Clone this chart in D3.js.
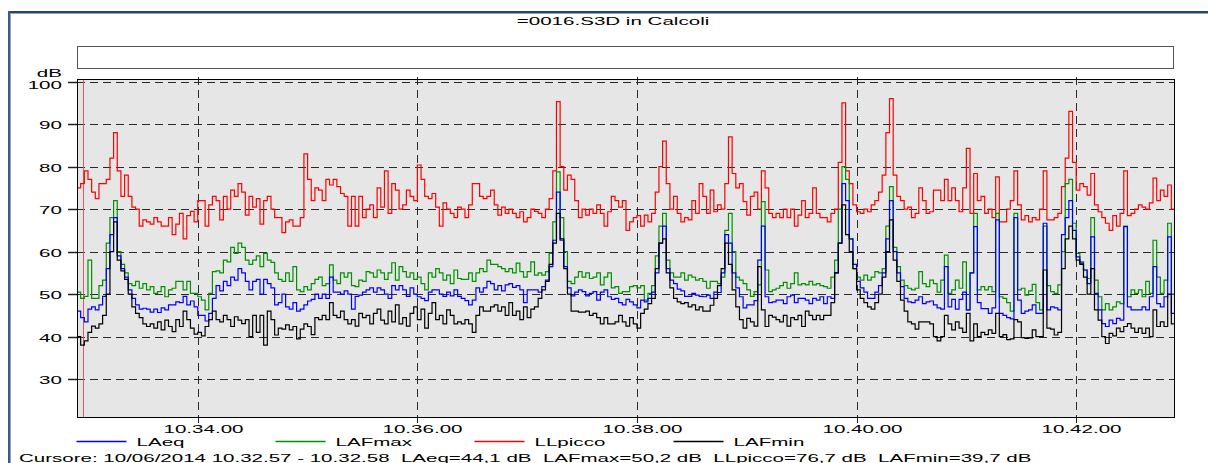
<!DOCTYPE html>
<html>
<head>
<meta charset="utf-8">
<script src="https://cdn.jsdelivr.net/npm/d3@7"></script>
<style>
  html, body { margin: 0; padding: 0; background: #fff; overflow: hidden; }
  text { font-family: "Liberation Sans", Arial, Helvetica, sans-serif; fill: #000; }
</style>
</head>
<body>
<svg id="chart" width="1208" height="463"></svg>
<script>
// ---- Measurement record: 2-second samples starting at 10:32:54 ----
const recordDate = "2014-06-10";
const startTime = "10:32:54";
const endTime = "10:42:54";
const stepSeconds = 2;

const LAeq = [
  46, 44.5, 43.5, 46.5, 47, 46.3, 47.5, 49.5, 56, 64,
  68, 59, 56, 54, 51, 49, 47.5, 46.5, 46.7, 46.5,
  45.8, 46.5, 45.7, 46.8, 46.3, 47.5, 47.5, 48.2, 48, 49.5,
  47.5, 48.4, 47, 45, 45, 43.7, 45.5, 49, 52, 50.8,
  53, 52, 54, 53.3, 56, 55, 53, 51, 53, 53.5,
  50, 53.5, 52.5, 51.5, 47.5, 48, 50, 47, 46.5, 48,
  46, 46.5, 47.5, 48.4, 48.8, 50, 49, 50, 49, 54,
  50.5, 50.5, 50, 50.8, 50, 46.5, 49.5, 49.8, 50.5, 51,
  51.5, 50.5, 51.5, 51, 50, 49, 52, 51, 52, 51,
  49.5, 51.5, 50, 49.4, 49, 48.5, 50.5, 51, 51, 50,
  49.5, 50.5, 49.6, 51, 49.5, 49, 48.5, 47.5, 48.6, 51.5,
  50.5, 51.5, 53, 52.5, 51, 52, 50.8, 52.2, 52.5, 51.6,
  52, 51, 48, 51, 51, 51, 50.5, 51.8, 53.3, 56.5,
  62.7, 74, 62.7, 56.5, 51.5, 49.6, 50.5, 51, 50.6, 49.6,
  50.2, 50.6, 48.6, 50.5, 51, 49.4, 48.8, 49, 48, 47.5,
  48.8, 48.2, 47.5, 46.8, 48.6, 48.2, 49, 50.5, 55, 62,
  66, 56, 53.3, 52.5, 51.2, 50.8, 49.5, 49.5, 50.2, 49.8,
  49.5, 49.4, 49.8, 49, 50.5, 50.4, 55, 64, 62, 55,
  51.5, 49.4, 46.8, 47.5, 47.5, 48.5, 58, 66, 49.4, 48,
  48.2, 48.6, 48.6, 47.8, 49.4, 49.8, 48, 49, 49, 48.6,
  47.8, 49, 48.6, 49.4, 47.8, 49.4, 49, 55, 62, 76,
  72, 63, 57, 53, 51.5, 50.5, 49, 49, 50.5, 52,
  55, 63, 72, 60, 55, 51.8, 49, 48.2, 48, 48.6,
  49.4, 47.8, 48.2, 48.4, 47.5, 46.8, 46.5, 56.5, 47, 48.8,
  46.5, 48.8, 50.5, 46.3, 55, 65.9, 48, 46.6, 46.6, 45.5,
  46.8, 67.5, 45.5, 45, 44.5, 44.2, 68, 48.6, 45.5, 46,
  46.3, 47.5, 45.5, 45.5, 66.7, 46.3, 47, 46.8, 46.3, 64,
  68, 72, 65, 58.8, 57.3, 55.7, 52.5, 63.5, 50.2, 46.3,
  43.1, 42.4, 43.9, 43.1, 44.3, 43.9, 65.9, 47, 46.3, 46.3,
  46.3, 47, 46.3, 49.4, 56.5, 47.8, 47, 49.4, 63.5, 45.5
];

const LAFmax = [
  50.5, 49, 49.5, 58, 49, 49, 52, 53.3, 62, 68,
  72, 60, 57, 55, 52.5, 52, 53, 51.4, 52.5, 51,
  51.8, 50.2, 50.6, 51.8, 49.4, 51, 51.4, 53, 53, 51,
  53, 50.2, 50.2, 49.4, 48.6, 46.3, 50.2, 55.3, 55.5, 55,
  58, 57.6, 61, 59.6, 62, 61, 58, 57, 58, 59,
  56.5, 59.6, 58, 57.5, 55, 53.5, 53, 55, 53, 56.5,
  51, 50.6, 51.8, 51, 52.5, 53.5, 54, 52, 52.5, 56.9,
  53.3, 52.5, 55, 54, 55, 52, 51.8, 53.3, 53, 55.3,
  55, 54, 55.7, 55, 53.5, 55, 57.4, 53.3, 56.5, 55.3,
  54, 55, 53.5, 54, 52.5, 51, 55, 54, 56, 55,
  53.3, 54.5, 52.5, 55.7, 53.7, 53.5, 53.5, 55, 53, 55,
  56, 55.3, 58, 57, 57, 56.5, 56, 55.3, 56, 55,
  57.3, 55.3, 54, 55.3, 57.6, 54.5, 55, 54.5, 55.3, 59.6,
  67, 78.8, 68, 60, 53, 52.5, 54, 55.3, 54, 55,
  53.7, 54, 55, 52.2, 54, 55, 51.5, 51.8, 50.2, 50.6,
  50.6, 51.8, 52, 51.5, 52, 48.6, 50.2, 52, 59, 66,
  69, 58, 55, 54, 54, 55, 53.3, 54.5, 54, 53.3,
  53.7, 53, 51.4, 53, 53, 52.5, 54, 65, 69, 60,
  54, 53.3, 52.5, 51, 49.5, 50.6, 52.2, 71.8, 55.7, 50.6,
  51, 51.4, 52, 52.8, 51.4, 52.5, 55, 52.2, 52.5, 52.2,
  53, 52.2, 52.5, 52, 51.8, 51.4, 54, 58, 70, 80,
  77, 63, 56, 54, 53.3, 54.5, 53.3, 54, 55.3, 55,
  56, 66, 75.3, 61, 56.5, 53.3, 52, 51.4, 51, 51.4,
  55.3, 52.5, 51.8, 53.3, 52.5, 50.5, 53.3, 59.2, 50.2, 51,
  53.3, 51.4, 57.6, 46.3, 55, 69, 51, 51.8, 51, 51.8,
  50.6, 69, 49.4, 49, 48, 46, 69, 51, 51.4, 49.8,
  50.8, 52.3, 48, 46.3, 66, 52, 50.6, 50.2, 52.2, 60,
  76, 77, 66.7, 59.6, 57.6, 55.7, 53.7, 68, 53.3, 49.4,
  46.3, 47.8, 46.3, 47, 48.2, 47.8, 66, 49.4, 51, 50.2,
  51, 49.4, 53, 50.2, 62.7, 54, 50.2, 53.3, 66.7, 50
];

const LLpicco = [
  75, 76, 79, 77, 74, 72.5, 76, 76, 77, 82,
  88, 79, 73, 78, 73, 70.5, 70, 66, 67.5, 67,
  66.5, 68, 67, 66, 66, 68, 64, 66.5, 69, 63,
  68.5, 69.5, 67, 72, 72, 66, 71, 73, 72, 67.5,
  73, 70, 74.5, 73, 76, 74, 68.6, 73, 70.5, 72.5,
  66.5, 72, 73, 70, 68, 68, 64.5, 67, 67.5, 66,
  66, 68, 83, 77, 72, 75, 74.5, 72, 77, 75.7,
  77, 75.3, 73.7, 73, 66, 73, 66, 73, 68, 70,
  71, 68, 75, 70.5, 79, 69, 76, 74.5, 70, 71,
  74.5, 73, 72, 80.4, 77, 73, 72.5, 73.7, 70.5, 66,
  71.5, 70, 69, 68, 70.5, 70, 68, 71, 76, 76,
  73, 72.5, 73, 74.5, 71, 68.6, 70.5, 69, 70, 69,
  68, 69.4, 67, 68, 70, 69.5, 69, 68, 70, 72.5,
  79, 95.3, 80, 74.5, 78, 77, 72, 68, 70, 68.6,
  70, 69, 71, 69, 66, 69.4, 73, 72, 70.5, 72,
  65, 67, 68, 68.5, 66, 68.6, 67, 69, 74, 80,
  86, 76, 70, 73, 69, 67, 68, 67.5, 72, 69,
  76, 73, 69, 74.5, 69.4, 71, 70, 76, 87, 78.4,
  75, 76, 71.8, 68.6, 73, 74, 70, 79, 75, 69,
  68, 69, 68, 70, 68, 70, 66, 68.6, 72, 68,
  69, 75, 69, 68, 68, 67, 69, 70, 81, 95,
  79, 76, 71, 69.4, 69, 70, 69.4, 71, 72, 74,
  78, 88, 96, 78, 73, 72, 70, 70.5, 68, 69,
  75, 72, 69, 69.4, 74.5, 74.5, 72, 77, 72, 75,
  72, 69.4, 75, 84.3, 69, 78.4, 72, 73, 69, 70,
  68, 77.6, 67, 67, 70, 72, 79, 71, 67.5, 68.5,
  67, 68, 67.5, 70, 79, 67.5, 67.5, 68, 69, 75.3,
  82, 93, 81, 74.5, 76, 75.3, 73.3, 78.4, 71, 69.4,
  68, 66.7, 65, 68.5, 66, 69, 79, 68.5, 69, 70,
  71, 70.5, 70, 71.5, 77.3, 72, 74.5, 73, 75.7, 70
];

const LAFmin = [
  40, 38, 39, 41, 42.5, 42, 43, 45, 50, 60,
  67, 58, 55.5, 53.5, 50, 47, 45.5, 44.5, 43, 42.4,
  43, 42, 43.5, 41.6, 43.9, 42.4, 41.2, 44, 42.4, 46,
  44, 42, 40.6, 41, 40.2, 42.4, 44, 46, 44, 43.5,
  45, 44, 42.4, 44.7, 43.9, 43.1, 44, 40, 45, 41,
  45, 38, 46, 44, 40.4, 42, 41.8, 42.8, 41.6, 42.4,
  39.5, 41.8, 43, 42.4, 40.5, 44.5, 44, 45, 44, 48,
  45, 44.5, 46, 44, 43, 44, 42.5, 45.5, 44.5, 45,
  43, 45.5, 46.5, 43.9, 43, 46, 43.5, 47.5, 43, 44.5,
  42.5, 45.5, 47, 44, 46.5, 42, 45.5, 48, 44, 45,
  43, 46.3, 45, 43, 43.5, 43, 44, 43, 41, 45,
  47, 46, 46, 47, 47.5, 46, 47, 45, 48, 45,
  46, 44, 47, 44.5, 46.5, 47, 49, 51, 53, 57,
  62, 69, 63, 56, 50, 46, 46, 45.8, 45.8, 46,
  45, 45.5, 44.5, 43, 44.5, 43, 43, 43.5, 45, 43.5,
  42.5, 44.5, 43, 42, 45.5, 46.5, 47.8, 49, 56, 62,
  63, 55, 51.5, 49, 48.2, 47.8, 48, 47, 47.5, 46.3,
  47, 46, 46, 47.4, 49, 52, 56, 62, 57, 51,
  47, 44, 42, 44.3, 43.5, 42.5, 56.5, 46.3, 42.4, 45,
  44.6, 44, 43.5, 45, 42.5, 44.5, 44, 45, 42.4, 46,
  45, 44, 45, 44, 45, 45, 48, 55, 62, 71,
  64, 60, 56, 51, 49, 48, 47, 46.5, 48, 50,
  54, 60, 67.5, 58, 53, 48.6, 46, 43.5, 43, 41.8,
  43.5, 43.5, 43.5, 43, 40, 39, 40, 45, 43, 41.6,
  43.5, 42, 41, 45.5, 39, 43, 40, 41, 40.5, 41.6,
  40.8, 45.5, 40, 40.5, 39.3, 39.5, 44, 43.5, 39.8, 39.6,
  39.7, 41.6, 40, 40, 55.7, 42, 41.8, 40.4, 41, 56,
  63, 66, 63, 58, 57, 54, 50, 56, 46.3, 43.9,
  40, 38.4, 40.8, 40.2, 42, 41.2, 42.4, 43.1, 42, 41,
  42, 40.8, 42, 40, 46.3, 42.4, 43.5, 42.4, 50, 43
];

const seriesNames  = ["LAeq", "LAFmax", "LLpicco", "LAFmin"];
const seriesValues = [LAeq, LAFmax, LLpicco, LAFmin];
const seriesColors = ["#0000ff", "#009000", "#ff0000", "#000000"];
const drawOrder    = ["LLpicco", "LAFmax", "LAeq", "LAFmin"];

const yTicks = [30, 40, 50, 60, 70, 80, 90, 100];
const yUnit = "dB";
const chartTitle = "=0016.S3D in Calcoli";
const cursorTime = "10:32:57.5";
const cursorLine = "Cursore: 10/06/2014 10.32.57 - 10.32.58  LAeq=44,1 dB  LAFmax=50,2 dB  LLpicco=76,7 dB  LAFmin=39,7 dB";

// ---- Layout ----
const plot = { left: 77, right: 1175, top: 79, bottom: 418 };
const FS = 11;      // font size
const SX = 1.87;    // horizontal glyph stretch of this instrument software

const parseT = d3.timeParse("%Y-%m-%d %H:%M:%S.%L");
function toDate(s) {
  const [hms, frac] = s.split(".");
  const ms = frac ? String(Math.round(parseFloat("0." + frac) * 1000)).padStart(3, "0") : "000";
  return parseT(`${recordDate} ${hms}.${ms}`);
}
const t0 = toDate(startTime);
const t1 = toDate(endTime);

const x = d3.scaleTime().domain([t0, t1]).range([plot.left, plot.right]);
const y = d3.scaleLinear().domain([30, 100]).range([379.2, 81.7]);

const svg = d3.select("#chart");

function stext(parent, px, py, str, anchor, sx) {
  const g = parent.append("g").attr("transform", `translate(${px},${py}) scale(${sx || SX},1)`);
  return g.append("text")
    .attr("text-anchor", anchor || "start")
    .attr("font-size", FS)
    .style("white-space", "pre")
    .text(str);
}

// window frame
svg.append("rect").attr("x", 8).attr("y", 11).attr("width", 1200).attr("height", 2.5).attr("fill", "#27466f");
svg.append("rect").attr("x", 8).attr("y", 11).attr("width", 2).attr("height", 452).attr("fill", "#3a5a85");
svg.append("rect").attr("x", 10).attr("y", 13.5).attr("width", 1).attr("height", 450).attr("fill", "#8ea6c4");

// title
stext(svg, 613, 24.5, chartTitle, "middle");

// empty header box
svg.append("rect").attr("x", 77.5).attr("y", 46.5).attr("width", 1096).attr("height", 22)
  .attr("fill", "#fff").attr("stroke", "#555").attr("stroke-width", 1);

// plot background
svg.append("rect").attr("x", plot.left).attr("y", plot.top)
  .attr("width", plot.right - plot.left).attr("height", plot.bottom - plot.top)
  .attr("fill", "#e6e6e6");

// horizontal grid + y ticks
const grid = svg.append("g");
yTicks.forEach(v => {
  const yy = Math.round(y(v)) + 0.5;
  grid.append("line").attr("x1", plot.left).attr("x2", plot.right).attr("y1", yy).attr("y2", yy)
    .attr("stroke", "#2a2a2a").attr("stroke-width", 1).attr("stroke-dasharray", "8,5");
  grid.append("line").attr("x1", 68).attr("x2", plot.left).attr("y1", yy).attr("y2", yy)
    .attr("stroke", "#222").attr("stroke-width", 1.5);
  stext(grid, 62, yy + 4 + (v === 100 ? 2.5 : 0), String(v), "end");
});
stext(svg, 62, 77, yUnit, "end");

// vertical grid + x ticks
const xTicks = x.ticks(d3.timeMinute.every(2));
const fmt = d3.timeFormat("%H.%M.%S");
xTicks.forEach(t => {
  const xx = Math.round(x(t)) + 0.5;
  grid.append("line").attr("x1", xx).attr("x2", xx).attr("y1", plot.top - 2).attr("y2", plot.bottom)
    .attr("stroke", "#2a2a2a").attr("stroke-width", 1).attr("stroke-dasharray", "8,5");
  grid.append("line").attr("x1", xx).attr("x2", xx).attr("y1", plot.bottom).attr("y2", plot.bottom + 5)
    .attr("stroke", "#222").attr("stroke-width", 1);
  stext(grid, xx + 5, 433, fmt(t), "middle");
});

// cursor marker
const cx = Math.round(x(toDate(cursorTime))) + 0.5;
svg.append("line").attr("x1", cx).attr("x2", cx).attr("y1", plot.top).attr("y2", plot.bottom)
  .attr("stroke", "#e35a5a").attr("stroke-width", 1);

// series as step lines
svg.append("clipPath").attr("id", "plotclip").append("rect")
  .attr("x", plot.left).attr("y", plot.top).attr("width", plot.right - plot.left).attr("height", plot.bottom - plot.top);

const line = d3.line()
  .x(d => x(d.t))
  .y(d => y(d.v))
  .curve(d3.curveStepAfter);

const linesG = svg.append("g").attr("clip-path", "url(#plotclip)");
drawOrder.forEach(name => {
  const k = seriesNames.indexOf(name);
  const vals = seriesValues[k];
  const pts = vals.map((v, i) => ({ t: d3.timeSecond.offset(t0, i * stepSeconds), v }));
  pts.push({ t: t1, v: vals[vals.length - 1] });
  linesG.append("path").datum(pts)
    .attr("d", line)
    .attr("fill", "none")
    .attr("stroke", seriesColors[k])
    .attr("stroke-width", 1.2)
    .attr("stroke-linejoin", "miter");
});

// plot frame
svg.append("rect").attr("x", plot.left + 0.5).attr("y", plot.top + 0.5)
  .attr("width", plot.right - plot.left - 1).attr("height", plot.bottom - plot.top - 1)
  .attr("fill", "none").attr("stroke", "#000").attr("stroke-width", 1);

// legend
const legendX = [76.5, 275.5, 474.5, 673.5];
seriesNames.forEach((name, k) => {
  const lx = legendX[k];
  svg.append("line").attr("x1", lx).attr("x2", lx + 50).attr("y1", 441.5).attr("y2", 441.5)
    .attr("stroke", seriesColors[k]).attr("stroke-width", 1.6);
  stext(svg, lx + 60, 446, name, "start");
});

// cursor readout, stretched to the readout field width
const readout = stext(svg, 19, 461.5, cursorLine, "start", 1);
const natural = readout.node().getComputedTextLength();
d3.select(readout.node().parentNode)
  .attr("transform", `translate(19,461.5) scale(${1013 / natural},1)`);
</script>
</body>
</html>
